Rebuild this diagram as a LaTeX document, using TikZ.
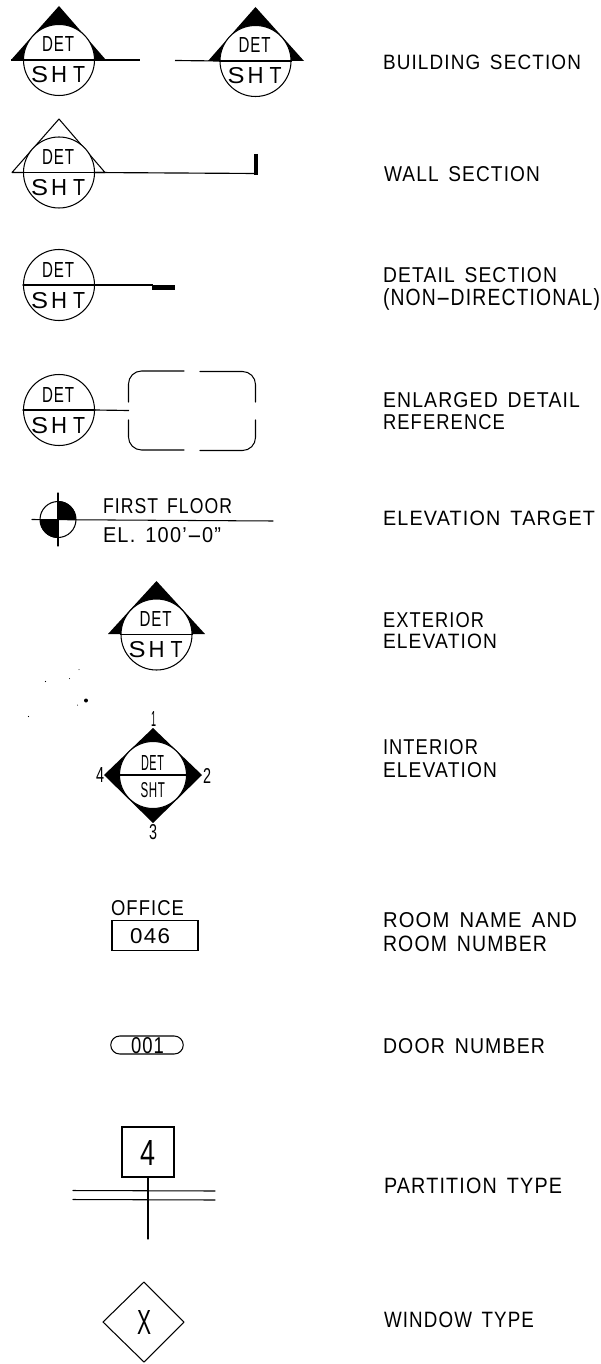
\documentclass[tikz,border=0pt]{standalone}
\usepackage{fontspec}
\setmainfont[LetterSpace=6,WordSpace=1.5]{Liberation Sans}
\usetikzlibrary{calc}
\newcommand\cad[3]{\resizebox{#1pt}{#2pt}{#3}}
\newcommand\longdash{\scalebox{2.3}[1]{-}}
\tikzset{
  ln/.style={line width=1.05pt,line cap=round},
  heavy/.style={line width=1.15pt},
  bub/.style={circle,draw,line width=1.05pt,fill=white,minimum size=71pt,inner sep=0pt},
  tx/.style={inner sep=0pt,outer sep=0pt,anchor=base west,text=black},
  lab/.style={inner sep=0pt,outer sep=0pt,anchor=base west,text=black},
}
% bubble: name, x, y : circle with divider and DET / SHT
\newcommand\bubble[3]{
  \node[bub] (#1) at (#2,#3) {};
  \draw[ln] (#1.west) -- (#1.east);
  \node[tx] (#1det) at ($(#2,#3)+(-17,-8)$) {\cad{32}{15}{DET}};
  \node[tx] (#1sht) at ($(#2,#3)+(-28,23)$) {\cad{17}{16}{S}\kern3pt\cad{16}{16}{H}\kern6pt\cad{12}{16}{T}};
}
\begin{document}
\begin{tikzpicture}[x=1pt,y=-1pt]
\useasboundingbox (0,0) rectangle (601,1364);
\path[fill=white] (0,0) rectangle (601,1364);

% BUILDING SECTION
\fill (59,6) -- (11,60) -- (106,60) -- cycle;
\bubble{a}{59}{60}
\coordinate (aend) at (140,60);
\draw[heavy] (11,60) -- (a.west);
\draw[heavy] (a.east) -- (aend);
\fill (255.5,7) -- (208,61) -- (304,61) -- cycle;
\bubble{b}{255.5}{61}
\coordinate (bend) at (175,60.5);
\draw[heavy] (b.west) -- (bend);

% WALL SECTION
\draw[ln,line join=round] (59,119) -- (12,172.5) -- (105,172.5) -- cycle;
\bubble{c}{59}{172.5}
\coordinate (cend) at (257.5,173.5);
\coordinate (ctop) at (255.5,154);
\draw[heavy] (c.east) -- (cend);
\draw[line width=4pt] (ctop) -- (255.5,175);

% DETAIL SECTION
\bubble{d}{59}{285}
\coordinate (dend) at (153,285);
\draw[heavy] (d.east) -- (dend);
\fill (152,285) rectangle (175,290);

% ENLARGED DETAIL
\bubble{e}{59}{410}
\coordinate (eend) at (129,410.5);
\draw[heavy] (e.east) -- (eend);
\draw[ln,rounded corners=13pt] (184,371) -- (128.5,371) -- (128.5,402);
\draw[ln,rounded corners=13pt] (200,371.5) -- (255.5,371.5) -- (255.5,402);
\draw[ln,rounded corners=13pt] (128.5,420) -- (128.5,450) -- (184,450);
\draw[ln,rounded corners=13pt] (255.5,420) -- (255.5,450.5) -- (200,450.5);

% ELEVATION TARGET
\node[circle,draw,line width=1.05pt,minimum size=36pt,inner sep=0pt] (t) at (58,519.5) {};
\fill (t.center) -- (t.north) arc[start angle=90,end angle=0,radius=18pt] -- cycle;
\fill (t.center) -- (t.south) arc[start angle=270,end angle=180,radius=18pt] -- cycle;
\coordinate (tl) at (32,519.5);
\coordinate (tr) at (273,521);
\coordinate (tt) at (58,493);
\coordinate (tb) at (58,546);
\draw[ln] (tt) -- (tb);
\draw[ln] (tl) -- (tr);
\node[tx] (ff) at (103,513) {\cad{129}{15}{FIRST FLOOR}};
\node[tx] (el) at (103,542) {\cad{118}{15}{EL. 100'\longdash 0"}};

% EXTERIOR ELEVATION
\fill (156.5,581) -- (108,634) -- (205,634) -- cycle;
\bubble{f}{156.5}{634.5}

% specks
\fill (86,700.5) circle (2pt);
\foreach \p/\r in {{(79,669.5)/.5},{(45.5,681.5)/.6},{(69.5,678.5)/.5},{(77.5,705)/.5},{(28.5,716.5)/.6}}{
  \path \p coordinate (sp);
  \fill (sp) circle (\r pt);
}

% INTERIOR ELEVATION
\fill (153,728) -- (202,775) -- (153,823) -- (104,775) -- cycle;
\node[bub,minimum size=67pt] (g) at (153,775) {};
\draw[ln] (g.west) -- (g.east);
\node[tx] at (141,770) (gdet) {\cad{23}{15}{DET}};
\node[tx] at (140.5,797) (gsht) {\cad{24.5}{15}{SHT}};
\node[tx] at (151,726) (n1) {\cad{5}{15}{1}};
\node[tx] at (203,783) (n2) {\cad{8}{15}{2}};
\node[tx] at (149,839) (n3) {\cad{8}{15}{3}};
\node[tx] at (96,782) (n4) {\cad{8}{15}{4}};

% OFFICE
\node[tx] (of) at (111,915) {\cad{73}{15}{OFFICE}};
\node[draw,line width=1.05pt,minimum width=86pt,minimum height=30pt,inner sep=0pt] (rm) at (155,935.5) {};
\node[tx] (rn) at (130,943) {\cad{40}{15}{046}};

% DOOR
\node[draw,line width=1.05pt,rounded corners=9pt,minimum width=72.5pt,minimum height=18pt,inner sep=0pt] (dr) at (147,1045) {};
\node[tx] (dn) at (131,1053.5) {\cad{33}{16}{001}};

% PARTITION
\node[draw,line width=1.05pt,minimum width=52pt,minimum height=50pt,inner sep=0pt] (pt) at (148,1152) {};
\node[tx] (p4) at (140,1165) {\cad{15}{25}{4}};
\coordinate (pb) at (148,1239);
\draw[ln] (pt.south) -- (pb);
\coordinate (p1a) at (73,1190.5); \coordinate (p1b) at (215,1191);
\coordinate (p2a) at (73,1199.5); \coordinate (p2b) at (215,1200);
\draw[ln] (p1a) -- (p1b);
\draw[ln] (p2a) -- (p2b);

% WINDOW
\draw[ln,line join=round] (144,1282) -- (184,1322) -- (144,1362) -- (103,1322) -- cycle;
\node[tx] (wx) at (137,1334) {\cad{14}{24}{X}};

% LABELS
\node[lab] (l1) at (383,69.5) {\cad{198}{14.5}{BUILDING SECTION}};
\node[lab] (l2) at (384,181.5) {\cad{156}{15}{WALL SECTION}};
\node[lab] (l3) at (383,283) {\cad{174}{15}{DETAIL SECTION}};
\node[lab] (l4) at (383,305) {\cad{217}{17}{(NON\longdash DIRECTIONAL)}};
\node[lab] (l5) at (383,407) {\cad{197}{15}{ENLARGED DETAIL}};
\node[lab] (l6) at (383,429) {\cad{122}{15}{REFERENCE}};
\node[lab] (l7) at (383,525) {\cad{212}{14.5}{ELEVATION TARGET}};
\node[lab] (l8) at (383,627) {\cad{101}{15}{EXTERIOR}};
\node[lab] (l9) at (383,648) {\cad{114}{14.5}{ELEVATION}};
\node[lab] (l10) at (383,754) {\cad{95}{15}{INTERIOR}};
\node[lab] (l11) at (383,777) {\cad{114}{15}{ELEVATION}};
\node[lab] (l12) at (383,927) {\cad{194}{15}{ROOM NAME AND}};
\node[lab] (l13) at (383,951) {\cad{164}{15.5}{ROOM NUMBER}};
\node[lab] (l14) at (383,1053) {\cad{162}{15}{DOOR NUMBER}};
\node[lab] (l15) at (384,1193) {\cad{178}{15.5}{PARTITION TYPE}};
\node[lab] (l16) at (384,1327) {\cad{150}{15.5}{WINDOW TYPE}};
\end{tikzpicture}
\end{document}
